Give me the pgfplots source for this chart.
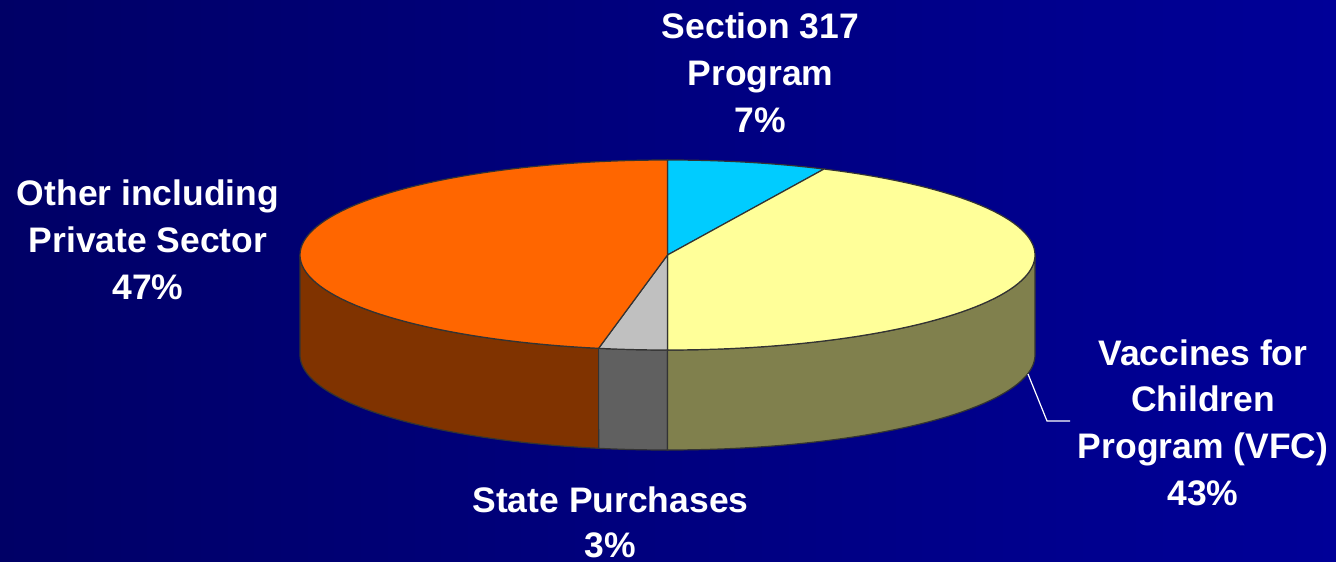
\documentclass[border=0pt]{standalone}
\usepackage{pgfplots}
\pgfplotsset{compat=1.18}
\usepackage{fontspec}
\setmainfont{Liberation Sans}
\definecolor{bgL}{HTML}{000066}
\definecolor{bgR}{HTML}{000098}
\definecolor{cS}{HTML}{00CCFF}
\definecolor{cV}{HTML}{FFFF99}
\definecolor{cVs}{HTML}{80804D}
\definecolor{cG}{HTML}{C0C0C0}
\definecolor{cGs}{HTML}{606060}
\definecolor{cO}{HTML}{FF6600}
\definecolor{cOs}{HTML}{803300}
\definecolor{edge}{HTML}{333333}
\tikzset{lbl/.style={text=white, font=\bfseries\fontsize{17.8}{21}\selectfont, anchor=base, inner sep=0pt}}
% shares (percent), clockwise from 12 o'clock
\def\pS{7}   % Section 317 Program
\def\pV{43}  % Vaccines for Children Program (VFC)
\def\pG{3}   % State Purchases
\def\pO{47}  % Other including Private Sector
\pgfmathsetmacro{\tA}{90}
\pgfmathsetmacro{\tB}{\tA-3.6*\pS}
\pgfmathsetmacro{\tC}{\tB-3.6*\pV}
\pgfmathsetmacro{\tD}{\tC-3.6*\pG}
\pgfmathsetmacro{\tE}{\tD-3.6*\pO}
\def\cx{667.5}\def\cy{255}\def\rx{367.5}\def\ry{95}\def\dz{100}
% top wedge between angles #1 < #2
\newcommand\topwedge[3]{%
  \addplot[fill=#3, draw=edge, line width=0.6bp, domain=#1:#2, samples=80, variable=\t]
    ({\cx+\rx*cos(\t)},{\cy-\ry*sin(\t)}) -- (axis cs:\cx,\cy) -- cycle;}
% side face between angles #1 < #2
\newcommand\sideface[3]{%
  \addplot[fill=#3, draw=edge, line width=0.6bp, variable=\s,
    samples at={0,1,...,50,100,101,...,150}]
    ({\cx+\rx*cos((\s<=75) ? ((#1)+((#2)-(#1))*\s/50) : ((#2)+((#1)-(#2))*(\s-100)/50))},
     {\cy-\ry*sin((\s<=75) ? ((#1)+((#2)-(#1))*\s/50) : ((#2)+((#1)-(#2))*(\s-100)/50)) + (\s>75)*\dz}) -- cycle;}
\begin{document}
\begin{tikzpicture}
\shade[left color=bgL, right color=bgR] (0,0) rectangle (668bp,281bp);
\begin{axis}[width=668bp, height=281bp, scale only axis,
  xmin=0, xmax=1336, ymin=0, ymax=562, y dir=reverse,
  hide axis, clip=false]
% side faces (front half)
\sideface{-180}{\tD}{cOs}
\sideface{\tD}{\tC}{cGs}
\sideface{\tC}{0}{cVs}
% top faces
\topwedge{\tB}{\tA}{cS}
\topwedge{\tC}{\tB}{cV}
\topwedge{\tD}{\tC}{cG}
\topwedge{\tE}{\tD}{cO}
% leader line
\draw[white, line width=0.6bp] (axis cs:1028,374) -- (axis cs:1047,421) -- (axis cs:1070,421);
% labels
\node[lbl] at (axis cs:760.5,39) {Section 317};
\node[lbl] at (axis cs:760.5,86) {Program};
\node[lbl] at (axis cs:760.5,133) {7\%};
\node[lbl] at (axis cs:148,205) {Other including};
\node[lbl] at (axis cs:148,252) {Private Sector};
\node[lbl] at (axis cs:148,299) {47\%};
\node[lbl] at (axis cs:1203,365) {Vaccines for};
\node[lbl] at (axis cs:1203,411) {Children};
\node[lbl] at (axis cs:1203,458) {Program (VFC)};
\node[lbl] at (axis cs:1203,505) {43\%};
\node[lbl] at (axis cs:610.5,512) {State Purchases};
\node[lbl] at (axis cs:610.5,557) {3\%};
\end{axis}
\end{tikzpicture}
\end{document}
